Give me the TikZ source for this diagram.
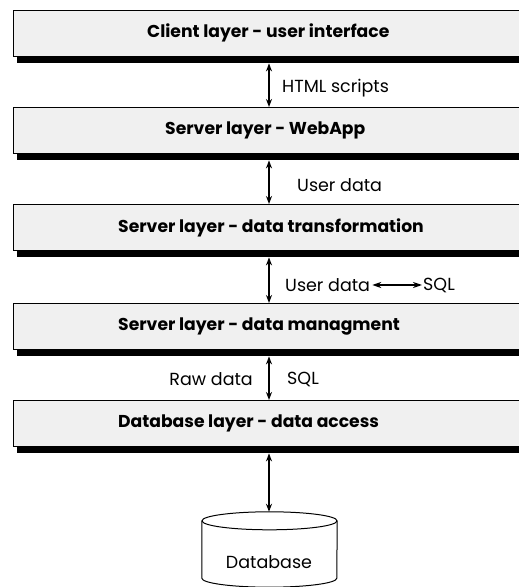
\documentclass[tikz,border=0pt]{standalone}
\usepackage{fontspec}
\setmainfont{Poppins}
\usetikzlibrary{arrows.meta,calc}

\begin{document}
\begin{tikzpicture}[x=1pt,y=1pt,
  layerbox/.style={draw=black, line width=1.3pt, fill=black!6, minimum height=46pt,
    minimum width=530pt, anchor=north west, inner sep=0pt},
  shadowbar/.style={fill=black, minimum height=7pt, minimum width=525pt,
    anchor=north west, inner sep=0pt},
  layertext/.style={font=\fontsize{17.2}{20}\selectfont\bfseries, anchor=west, inner sep=0pt},
  flowlabel/.style={font=\fontsize{17.5}{21}\selectfont, inner sep=0pt},
  link/.style={line width=1.4pt, {Stealth[length=8pt,width=6pt]}-{Stealth[length=8pt,width=6pt]}},
  minilink/.style={line width=1.3pt, shorten <=2pt, shorten >=1pt,
    {Stealth[length=9pt,width=6pt]}-{Stealth[length=9pt,width=6pt]}},
]
\useasboundingbox (0,0) rectangle (519,587);

% the five layers, each with a heavy bar underneath
\node[layerbox] (b1) at (13,577) {};
\node[shadowbar] (sh1) at (17,531) {};
\node[layerbox] (b2) at (13,480) {};
\node[shadowbar] (sh2) at (17,434) {};
\node[layerbox] (b3) at (13,383) {};
\node[shadowbar] (sh3) at (17,337) {};
\node[layerbox] (b4) at (13,284) {};
\node[shadowbar] (sh4) at (17,238) {};
\node[layerbox] (b5) at (13,187) {};
\node[shadowbar] (sh5) at (17,141) {};

\node[layertext] (t1) at (147,554) {Client layer - user interface};
\node[layertext] (t2) at (165,457) {Server layer - WebApp};
\node[layertext] (t3) at (118,359) {Server layer - data transformation};
\node[layertext] (t4) at (118,260) {Server layer - data managment};
\node[layertext] (t5) at (118,164) {Database layer - data access};

% vertical axis of the connectors
\coordinate (axis) at (269,0);

% database cylinder
\node[minimum width=135pt, minimum height=57pt, inner sep=0pt] (db) at (269.5,37.5) {};
\draw[line width=1pt, fill=white] (db.north west) -- (db.south west)
  arc[start angle=180, end angle=360, x radius=67.5pt, y radius=9pt] -- (db.north east);
\draw[line width=1pt] (db.north) ellipse[x radius=67.5pt, y radius=9pt];
\coordinate (dbtop) at ([yshift=9pt]db.north);
\node[flowlabel] (dbt) at (269,25) {Database};

% connectors between the layers
\draw[link] (sh1.south -| axis) -- (b2.north -| axis);
\draw[link] (sh2.south -| axis) -- (b3.north -| axis);
\draw[link] (sh3.south -| axis) -- (b4.north -| axis);
\draw[link] (sh4.south -| axis) -- (b5.north -| axis);
\draw[link] (sh5.south -| axis) -- (dbtop -| axis);

% connector labels
\node[flowlabel, anchor=west] (l1) at (282,499) {HTML scripts};
\node[flowlabel, anchor=west] (l2) at (297,402) {User data};
\node[flowlabel, anchor=west] (l3a) at (285,302) {User data};
\node[flowlabel, anchor=west] (l3b) at (423,302) {SQL};
\draw[minilink] (l3a.east) -- (l3b.west);
\node[flowlabel, anchor=east] (l4a) at (253,208) {Raw data};
\node[flowlabel, anchor=west] (l4b) at (287,208) {SQL};
\end{tikzpicture}
\end{document}
